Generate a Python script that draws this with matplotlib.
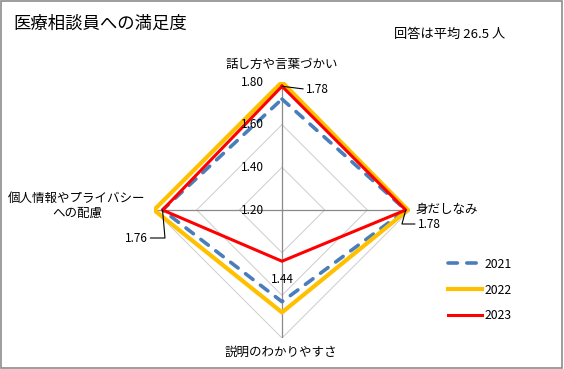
import numpy as np
import matplotlib
matplotlib.use("Agg")
import matplotlib.pyplot as plt
from matplotlib.patches import Rectangle

plt.rcParams['font.family'] = ['Noto Sans CJK JP', 'DejaVu Sans']

categories = ["話し方や言葉づかい", "身だしなみ", "説明のわかりやすさ", "個人情報やプライバシー\nへの配慮"]
years = ["2021", "2022", "2023"]
v2021 = [1.72, 1.78, 1.63, 1.76]
v2022 = [1.80, 1.79, 1.68, 1.80]
v2023 = [1.78, 1.78, 1.44, 1.76]
r_ticks = [1.20, 1.40, 1.60, 1.80]
title = "医療相談員への満足度"
note = "回答は平均 26.5 人"

fig = plt.figure(figsize=(5.64, 3.69), dpi=100)
fig.patch.set_facecolor('white')
fig.add_artist(Rectangle((0.001, 0.002), 0.996, 0.995, transform=fig.transFigure,
                         fill=False, edgecolor='#8c8c8c', lw=1.2))

ax = fig.add_axes([154/564, 1 - 338/369, 256/564, 256/369], projection='polar')
ax.set_theta_zero_location('N')
ax.set_theta_direction(-1)
ax.set_ylim(r_ticks[0], r_ticks[-1])
ax.grid(False)
ax.spines['polar'].set_visible(False)
ax.set_xticks([])
ax.set_yticks([])
ax.patch.set_alpha(0)

n = len(categories)
theta = np.arange(n) * 2 * np.pi / n
theta_c = np.append(theta, theta[0])

# diamond gridlines
for r in r_ticks[1:]:
    ax.plot(theta_c, [r] * (n + 1), color='#d0d0d0', lw=0.75, zorder=1)
# spokes
for t in theta:
    ax.plot([t, t], [r_ticks[0], r_ticks[-1]], color='#8a8a8a', lw=0.9, zorder=1)

series = [
    (v2021, dict(color='#4a7ebb', lw=2.6, linestyle=(0, (2.6, 2.6)), dash_capstyle='round')),
    (v2022, dict(color='#ffc000', lw=3.0)),
    (v2023, dict(color='#ff0000', lw=2.2)),
]
handles = []
for (vals, style), yr in zip(series, years):
    h, = ax.plot(theta_c, vals + vals[:1], label=yr, zorder=3, **style)
    handles.append(h)

# radial tick labels
for r in r_ticks:
    ax.annotate(f"{r:.2f}", xy=(0, r), xytext=(-18, 0), textcoords='offset pixels',
                ha='right', va='center', fontsize=8.5, zorder=5)

# data labels for 2023
ax.annotate(f"{v2023[0]:.2f}", xy=(theta[0], v2023[0]), xytext=(24, -3),
            textcoords='offset pixels', ha='left', va='center', fontsize=8.5,
            arrowprops=dict(arrowstyle='-', color='black', lw=0.8, shrinkA=0, shrinkB=0,
                            relpos=(0, 0.5)))
ax.annotate(f"{v2023[1]:.2f}", xy=(theta[1], v2023[1]), xytext=(12, -14),
            textcoords='offset pixels', ha='left', va='center', fontsize=8.5,
            arrowprops=dict(arrowstyle='-', color='black', lw=0.8, shrinkA=0, shrinkB=0,
                            relpos=(0, 0.5), connectionstyle='angle,angleA=180,angleB=75,rad=0'))
ax.annotate(f"{v2023[2]:.2f}", xy=(theta[2], v2023[2]), xytext=(0, -18),
            textcoords='offset pixels', ha='center', va='center', fontsize=8.5)
ax.annotate(f"{v2023[3]:.2f}", xy=(theta[3], v2023[3]), xytext=(-15, -28),
            textcoords='offset pixels', ha='right', va='center', fontsize=8.5,
            arrowprops=dict(arrowstyle='-', color='black', lw=0.8, shrinkA=0, shrinkB=0,
                            relpos=(1, 0.5), connectionstyle='angle,angleA=0,angleB=95,rad=0'))

# category labels
fs_cat = 9
ax.annotate(categories[0], xy=(theta[0], r_ticks[-1]), xytext=(0, 18), textcoords='offset pixels',
            ha='center', va='center', fontsize=fs_cat)
ax.annotate(categories[1], xy=(theta[1], r_ticks[-1]), xytext=(5, 1), textcoords='offset pixels',
            ha='left', va='center', fontsize=fs_cat)
ax.annotate(categories[2], xy=(theta[2], r_ticks[-1]), xytext=(-1, -14), textcoords='offset pixels',
            ha='center', va='center', fontsize=fs_cat)
ax.annotate(categories[3], xy=(theta[3], r_ticks[-1]), xytext=(-77, 4), textcoords='offset pixels',
            ha='center', va='center', fontsize=fs_cat, linespacing=1.25)

fig.text(13/564, 1 - 24/369, title, fontsize=12.5, ha='left', va='center')
fig.text(505/564, 1 - 34/369, note, fontsize=9.5, ha='right', va='center')

fig.legend(handles=handles, labels=years, loc='center left',
           bbox_to_anchor=(442/564, 1 - 290/369), frameon=False, fontsize=8.8,
           handlelength=2.8, labelspacing=1.05, handletextpad=0.2, borderpad=0)

fig.savefig("out.png", dpi=100, facecolor='white')
